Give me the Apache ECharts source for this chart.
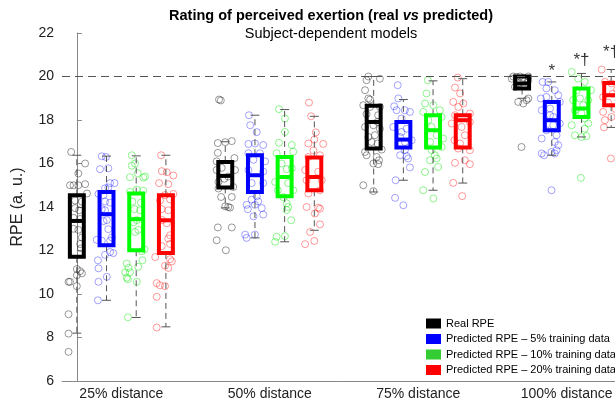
<!DOCTYPE html>
<html><head><meta charset="utf-8">
<script src="https://cdn.jsdelivr.net/npm/echarts@6/dist/echarts.min.js"></script>
<style>html,body{margin:0;padding:0;background:#fff}#c{width:615px;height:405px}</style>
</head><body><div id="c"></div><script>
const categories = ['25% distance', '50% distance', '75% distance', '100% distance'];
const seriesNames = ['Real RPE', 'Predicted RPE \u2013 5% training data', 'Predicted RPE \u2013 10% training data', 'Predicted RPE \u2013 20% training data'];
const yTicks = [6, 8, 10, 12, 14, 16, 18, 20, 22];
const refLine = 20;

// box stats per group: [lowerWhisker, q1, median, q3, upperWhisker]
const boxReal = [[8.2,11.71,13.36,14.54,16.38],[13.96,14.9,15.43,16.07,17.0],[14.69,16.69,17.91,18.65,20.0],[19.0,19.45,19.68,20.0,20.0]];
const box5 = [[9.71,12.24,13.67,14.69,16.34],[12.58,14.69,15.46,16.38,18.22],[15.23,16.74,17.1,17.91,18.94],[16.38,17.53,17.99,18.83,19.75]];
const box10 = [[8.92,12.01,13.44,14.62,16.35],[12.4,14.5,15.38,16.3,18.48],[14.77,16.74,17.53,18.22,19.8],[17.22,18.14,18.53,19.45,20.14]];
const box20 = [[8.49,11.89,13.39,14.54,16.38],[12.93,14.77,15.38,16.28,18.17],[15.1,16.74,17.99,18.22,19.9],[17.66,18.68,19.14,19.7,20.32]];

// individual subjects per box: [jitter, value]
const real_g1 = [[-0.19,16.53],[0.28,16.0],[0.05,15.54],[-0.23,15.0],[-0.11,15.0],[0.05,15.0],[0.28,15.05],[0.34,14.62],[-0.06,14.3],[0.17,14.25],[-0.06,13.95],[0.08,13.85],[-0.11,13.5],[0.11,13.45],[-0.11,13.0],[0.05,12.95],[0.17,12.6],[0.11,12.3],[0.14,12.1],[0,11.15],[0.11,11.05],[0.17,10.95],[0,10.86],[-0.28,10.56],[-0.23,10.56],[0,10.36],[-0.28,9.07],[-0.28,8.18],[-0.28,7.34]];
const p5_g1 = [[-0.16,16.33],[-0.02,16.3],[-0.22,15.74],[0.06,15.78],[0.27,15.1],[0.12,15.1],[-0.05,14.86],[0.06,14.9],[-0.27,14.6],[-0.1,14.55],[-0.05,14.25],[0.12,14.2],[-0.16,13.9],[-0.05,13.85],[0.01,13.4],[-0.1,13.35],[0.06,12.98],[-0.33,12.49],[-0.16,12.45],[0.18,12.6],[0.12,12.45],[0.12,11.93],[0.23,11.88],[-0.05,11.8],[-0.29,11.55],[-0.27,11.18],[0.01,10.79],[-0.27,10.56],[-0.29,9.71]];
const p10_g1 = [[-0.15,16.38],[-0.04,16.0],[-0.15,15.9],[0.05,15.55],[-0.21,15.37],[0.24,15.35],[0.3,15.4],[-0.21,14.7],[0.24,14.75],[0.02,14.8],[-0.13,14.25],[0.16,14.2],[-0.06,13.9],[0.13,13.85],[0.02,13.4],[-0.09,13.3],[0.07,12.95],[-0.04,12.85],[0.19,11.97],[0.28,12.05],[0.21,11.55],[-0.32,11.4],[-0.26,11.2],[0.07,11.25],[-0.37,11.0],[-0.21,11.0],[-0.32,10.75],[-0.28,10.68],[0.02,10.56],[-0.28,8.93]];
const p20_g1 = [[-0.16,16.38],[-0.14,15.65],[0.03,15.6],[0.25,15.45],[-0.23,15.1],[0.08,15.05],[0.25,14.6],[-0.03,14.55],[-0.2,14.3],[0.14,14.35],[-0.14,13.9],[0.08,13.85],[-0.12,13.4],[0.03,13.25],[0.14,12.7],[0.08,12.55],[-0.14,12.2],[0.14,12.3],[-0.36,11.7],[0.14,11.6],[0.2,11.5],[-0.03,11.3],[0.08,11.2],[-0.31,10.5],[-0.2,10.4],[-0.03,10.36],[-0.31,9.87],[-0.31,8.46]];
const real_g2 = [[-0.21,18.94],[-0.15,18.9],[-0.25,16.94],[0,16.98],[0.22,17.03],[-0.25,16.49],[-0.29,16.1],[0.31,16.25],[-0.29,15.7],[0.33,15.7],[-0.03,15.3],[-0.23,15.15],[-0.23,14.85],[0.27,14.92],[-0.14,14.46],[0.22,14.46],[0.1,14.0],[0,14.03],[0.16,13.97],[-0.25,13.06],[0.22,13.06],[-0.29,12.47],[0.02,12.01],[-0.12,15.8],[0.1,15.4]];
const p5_g2 = [[-0.2,18.22],[-0.16,17.76],[0.06,17.44],[0,16.92],[-0.22,16.9],[0.28,16.85],[0.17,16.47],[-0.22,16.47],[-0.05,16.17],[0.34,16.1],[-0.22,15.7],[0.28,15.63],[-0.11,15.1],[0.28,15.1],[0.06,14.49],[-0.11,14.34],[0.11,14.26],[0,14.1],[-0.28,14.1],[-0.24,13.9],[0.23,13.95],[-0.05,13.57],[0.28,13.65],[-0.33,12.73],[-0.28,12.58],[0,12.73]];
const p10_g2 = [[-0.19,18.5],[0.01,18.07],[0.01,17.45],[-0.19,16.95],[0.24,16.85],[0.29,16.54],[-0.27,16.47],[0.07,15.74],[0.24,15.78],[-0.32,15.15],[-0.23,14.77],[0.29,14.77],[-0.04,14.45],[0.07,14.17],[0.12,14.0],[0.07,13.86],[0.22,13.39],[-0.27,12.63],[-0.32,12.4],[0.01,12.66],[-0.1,16.0],[0.12,15.1]];
const p20_g2 = [[-0.18,18.8],[-0.11,18.17],[0.05,17.43],[-0.2,16.92],[0,17.1],[0.3,16.9],[-0.03,16.6],[0.19,16.38],[-0.2,16.3],[-0.31,15.7],[0.13,15.62],[-0.26,15.23],[0.25,15.23],[0.19,14.77],[-0.2,14.62],[-0.26,14.0],[0.13,13.97],[0.19,13.92],[0.02,13.7],[0.19,13.2],[-0.14,12.85],[-0.31,12.29],[0,12.44]];
const real_g3 = [[-0.18,20.0],[0.21,19.9],[-0.24,19.83],[-0.29,19.37],[-0.18,18.99],[-0.12,18.94],[-0.35,18.68],[-0.12,18.6],[0.21,18.6],[-0.24,18.27],[0.15,18.22],[0.13,17.91],[-0.01,17.76],[-0.29,17.68],[0.21,17.6],[0.04,17.3],[-0.18,17.22],[-0.07,16.99],[0.13,16.92],[0.27,16.64],[-0.29,16.53],[-0.24,16.38],[0.1,16.3],[0.18,16.15],[-0.01,16.0],[0.15,15.97],[-0.35,15.0],[-0.01,14.73]];
const p5_g3 = [[-0.19,19.6],[-0.17,18.99],[-0.31,18.63],[-0.23,18.45],[0.05,18.45],[0.22,18.37],[-0.06,18.07],[-0.34,17.68],[-0.06,17.45],[0.28,17.07],[0.05,16.61],[-0.11,16.38],[0.11,16.34],[0.16,16.23],[0.22,15.82],[-0.26,15.23],[-0.28,14.42],[0,14.08],[-0.11,17.22],[0.11,17.6],[0.05,16.99]];
const p10_g3 = [[-0.18,19.83],[-0.22,19.22],[-0.27,18.76],[0.01,18.68],[-0.33,18.37],[0.23,18.45],[0.29,18.14],[-0.16,17.99],[0.34,17.15],[0.29,16.76],[-0.05,16.61],[0.06,16.38],[0.12,16.23],[-0.1,16.15],[0.17,15.84],[-0.27,15.61],[-0.33,14.77],[0.01,14.39],[-0.05,17.68],[0.12,17.3],[-0.1,16.99]];
const p20_g3 = [[-0.17,19.95],[-0.26,19.49],[-0.09,19.22],[-0.32,18.83],[0.02,18.76],[-0.15,18.6],[0.24,18.3],[-0.26,18.22],[-0.37,17.84],[0.24,17.91],[-0.28,17.07],[-0.15,16.69],[0.24,16.61],[0.07,16.15],[-0.26,16.03],[0.24,15.97],[-0.32,15.11],[-0.02,14.5],[-0.04,17.68],[0.07,17.3],[-0.09,16.92]];
const real_g4 = [[-0.3,20.0],[-0.07,20.0],[0.21,20.0],[-0.35,19.9],[0.21,19.83],[-0.19,19.98],[0.04,19.95],[-0.13,19.68],[0.09,19.6],[-0.24,19.52],[-0.13,18.83],[0.15,18.91],[0.04,18.76],[0.21,18.99],[-0.02,16.76]];
const p5_g4 = [[-0.31,19.75],[-0.12,19.75],[-0.18,19.45],[0.1,19.37],[0.22,19.14],[-0.37,18.99],[-0.18,19.06],[0.27,18.83],[-0.34,18.45],[-0.06,18.53],[0.05,18.14],[0.27,17.84],[-0.18,17.53],[0.16,17.3],[-0.34,17.15],[0.1,16.99],[0.22,16.84],[0.16,16.61],[-0.01,16.53],[-0.34,16.46],[-0.26,16.38],[0.1,16.46],[-0.01,14.77],[-0.06,18.22],[0.05,17.76]];
const p10_g4 = [[-0.33,20.21],[-0.11,19.9],[0.11,19.75],[-0.16,19.37],[0.32,19.37],[-0.28,18.91],[0.23,18.91],[-0.22,18.45],[0,18.3],[0.11,18.07],[0.23,17.84],[-0.33,17.76],[0.11,17.6],[-0.22,17.3],[0,17.22],[0.17,17.26],[-0.02,15.34],[-0.05,18.99],[0.06,18.68]];
const p20_g4 = [[-0.32,20.32],[-0.21,19.75],[0.01,19.68],[-0.27,19.06],[-0.27,18.37],[-0.21,17.99],[0.01,18.14],[-0.24,17.66],[-0.01,16.23],[0.2,19.4],[0.25,18.9],[0.15,18.5],[0.05,19.2],[-0.1,18.8]];

// significance marks above the 100% group
const sigLabels = ['*', '*\u2020', '*\u2020'];
const sigSeries = [1, 2, 3];
const sigY = [20.26, 20.75, 21.12];

const boxes = [boxReal, box5, box10, box20];
const points = [[real_g1, real_g2, real_g3, real_g4], [p5_g1, p5_g2, p5_g3, p5_g4], [p10_g1, p10_g2, p10_g3, p10_g4], [p20_g1, p20_g2, p20_g3, p20_g4]];

const FONT = 'Liberation Sans, Arial, Helvetica, sans-serif';
const boxColors = ['#000000', '#0000ff', '#00ff00', '#ff0000'];
const legendColors = ['#000000', '#0000ff', '#33cc33', '#ff0000'];
const ptColors = ['rgba(0,0,0,0.5)', 'rgba(0,0,255,0.45)', 'rgba(0,230,0,0.55)', 'rgba(255,0,0,0.5)'];
const GROUP_STEP = 5;

function makeRender(color) {
  return function (params, api) {
    const x = api.value(0);
    const lo = api.coord([x, api.value(1)]);
    const q1 = api.coord([x, api.value(2)]);
    const md = api.coord([x, api.value(3)]);
    const q3 = api.coord([x, api.value(4)]);
    const hi = api.coord([x, api.value(5)]);
    const bw = api.size([0.47, 0])[0];
    const cw = api.size([0.3, 0])[0];
    const wStyle = { stroke: '#555', lineWidth: 1, lineDash: [6, 4] };
    const cStyle = { stroke: '#555', lineWidth: 1 };
    return {
      type: 'group',
      children: [
        { type: 'line', shape: { x1: lo[0], y1: q1[1], x2: lo[0], y2: lo[1] }, style: wStyle },
        { type: 'line', shape: { x1: hi[0], y1: q3[1], x2: hi[0], y2: hi[1] }, style: wStyle },
        { type: 'line', shape: { x1: lo[0] - cw / 2, y1: lo[1], x2: lo[0] + cw / 2, y2: lo[1] }, style: cStyle },
        { type: 'line', shape: { x1: hi[0] - cw / 2, y1: hi[1], x2: hi[0] + cw / 2, y2: hi[1] }, style: cStyle },
        { type: 'rect', shape: { x: q3[0] - bw / 2, y: q3[1], width: bw, height: q1[1] - q3[1] }, style: { fill: 'none', stroke: color, lineWidth: 4 } },
        { type: 'line', shape: { x1: md[0] - bw / 2, y1: md[1], x2: md[0] + bw / 2, y2: md[1] }, style: { stroke: color, lineWidth: 4 } }
      ]
    };
  };
}

const series = [];
for (let s = 0; s < 4; s++) {
  series.push({
    type: 'scatter', name: 'pts' + s, silent: true, z: 2,
    symbol: 'circle', symbolSize: 7,
    itemStyle: { color: 'rgba(0,0,0,0)', borderColor: ptColors[s], borderWidth: 1 },
    data: points[s].flatMap((grp, g) => grp.map(p => [g * GROUP_STEP + s + p[0], p[1]])),
    markLine: s === 0 ? {
      silent: true, symbol: ['none', 'none'], label: { show: false },
      lineStyle: { type: [8, 5], color: '#555', width: 1.2 },
      data: [{ yAxis: refLine }]
    } : undefined
  });
}
for (let s = 0; s < 4; s++) {
  series.push({
    type: 'custom', name: seriesNames[s], z: 3, silent: true,
    renderItem: makeRender(boxColors[s]),
    encode: { x: 0, y: [1, 2, 3, 4, 5] },
    data: boxes[s].map((b, g) => [g * GROUP_STEP + s].concat(b))
  });
}
series.push({
  type: 'scatter', name: 'sig', silent: true, z: 4, symbolSize: 0,
  data: sigLabels.map((t, i) => [3 * GROUP_STEP + sigSeries[i], sigY[i], t]),
  label: { show: true, position: 'inside', formatter: p => p.value[2], fontSize: 17, color: '#000', fontFamily: FONT }
});

const chart = echarts.init(document.getElementById('c'), null, { renderer: 'canvas' });
chart.setOption({
  animation: false,
  backgroundColor: '#fff',
  textStyle: { fontFamily: FONT },
  grid: { left: 62, top: 33, width: 564, height: 348, containLabel: false, outerBoundsMode: 'none' },
  graphic: [
    { type: 'text', x: 331, y: 16, style: {
      text: '{b|Rating of perceived exertion (real }{i|vs}{b| predicted)}',
      textAlign: 'center', textVerticalAlign: 'middle',
      rich: { b: { fontSize: 14.5, fontWeight: 'bold', fontFamily: FONT, fill: '#000' },
              i: { fontSize: 14.5, fontWeight: 'bold', fontStyle: 'italic', fontFamily: FONT, fill: '#000' } } } },
    { type: 'text', x: 331, y: 34, style: { text: 'Subject-dependent models', textAlign: 'center', textVerticalAlign: 'middle', fontSize: 14.5, fontFamily: FONT, fill: '#000' } }
  ],
  legend: {
    orient: 'vertical', left: 421, top: 313, itemWidth: 15, itemHeight: 10, itemGap: 4.5,
    selectedMode: false,
    textStyle: { fontSize: 11, color: '#000', fontFamily: FONT },
    data: seriesNames.map((n, i) => ({ name: n, icon: 'rect', itemStyle: { color: legendColors[i], borderWidth: 0 } }))
  },
  xAxis: {
    type: 'value', min: -0.5, max: 18.5,
    splitLine: { show: false },
    axisLine: { show: true, lineStyle: { color: '#888', width: 1 } },
    axisTick: { show: false },
    axisLabel: {
      show: true, margin: 6, fontSize: 14, color: '#222', fontFamily: FONT,
      customValues: categories.map((c, i) => i * GROUP_STEP + 1.5),
      formatter: v => categories[Math.round((v - 1.5) / GROUP_STEP)]
    }
  },
  yAxis: {
    type: 'value', min: yTicks[0], max: yTicks[yTicks.length - 1], interval: 2,
    name: 'RPE (a. u.)', nameLocation: 'middle', nameGap: 36,
    nameTextStyle: { fontSize: 16, color: '#222', fontFamily: FONT },
    splitLine: { show: false },
    axisLine: { show: true, lineStyle: { color: '#888', width: 1 } },
    axisTick: { show: true, inside: true, length: 5, lineStyle: { color: '#888' } },
    axisLabel: { fontSize: 14, color: '#222', margin: 8, fontFamily: FONT }
  },
  series: series
});
</script></body></html>
